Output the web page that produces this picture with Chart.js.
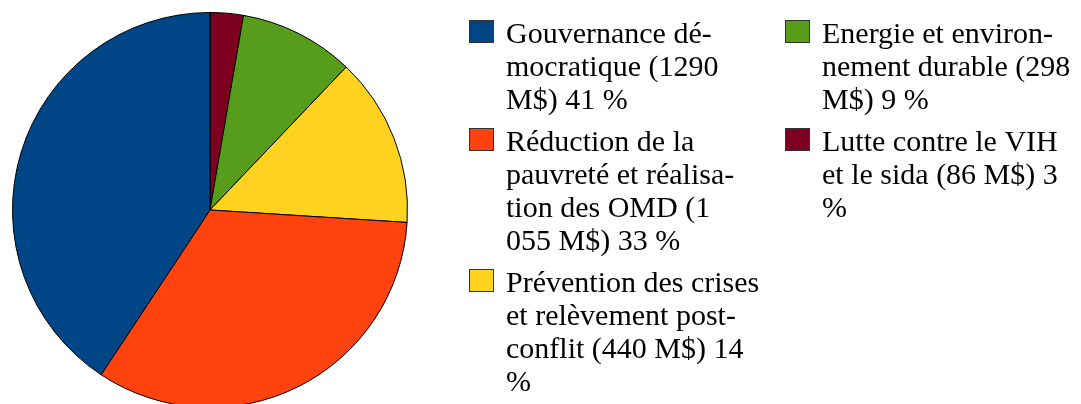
<!DOCTYPE html>
<html>
<head>
<meta charset="utf-8">
<script src="https://cdn.jsdelivr.net/npm/chart.js@4"></script>
<style>
  html, body { margin: 0; padding: 0; background: #fff; }
  body { width: 1081px; height: 404px; overflow: hidden; position: relative; }
  #pie { position: absolute; left: 0; top: 0; }
</style>
</head>
<body>
<canvas id="pie" width="1081" height="420"></canvas>
<script>
// legend order, lines as wrapped in the original
const labelLines = [
  ['Gouvernance dé-', 'mocratique (1290', 'M$) 41 %'],
  ['Réduction de la', 'pauvreté et réalisa-', 'tion des OMD (1', '055 M$) 33 %'],
  ['Prévention des crises', 'et relèvement post-', 'conflit (440 M$) 14', '%'],
  ['Energie et environ-', 'nement durable (298', 'M$) 9 %'],
  ['Lutte contre le VIH', 'et le sida (86 M$) 3', '%'],
];
const values = [1290, 1055, 440, 298, 86];
const colors = ['#004586', '#ff420e', '#ffd320', '#579d1c', '#7e0021'];

// the original runs counter-clockwise from 12 o'clock, so feed it reversed
const order = values.map((v, i) => i).reverse();

// two column legend drawn next to the pie, first three items left
const sideLegend = {
  id: 'sideLegend',
  afterDraw(chart) {
    const ctx = chart.ctx;
    const cols = [469, 785];
    const tops = [20, 20];
    ctx.save();
    ctx.font = "30px 'Liberation Serif', 'Times New Roman', serif";
    ctx.textBaseline = 'alphabetic';
    ctx.textAlign = 'left';
    labelLines.forEach((lines, i) => {
      const c = i < 3 ? 0 : 1;
      const x = cols[c], y = tops[c];
      ctx.fillStyle = colors[i];
      ctx.fillRect(x, y, 25, 23);
      ctx.strokeStyle = '#333';
      ctx.lineWidth = 1;
      ctx.strokeRect(x + 0.5, y + 0.5, 24, 22);
      ctx.fillStyle = '#000';
      lines.forEach((t, j) => ctx.fillText(t, x + 37, y + 23 + j * 33));
      tops[c] += lines.length * 33 + 9;
    });
    ctx.restore();
  }
};

new Chart(document.getElementById('pie').getContext('2d'), {
  type: 'pie',
  data: {
    labels: order.map(i => labelLines[i].join(' ')),
    datasets: [{
      data: order.map(i => values[i]),
      backgroundColor: order.map(i => colors[i]),
      borderColor: '#000',
      borderWidth: 1,
    }]
  },
  options: {
    responsive: false,
    animation: false,
    layout: { padding: { left: 12, top: 12, bottom: 12, right: 673 } },
    plugins: {
      legend: { display: false },
      tooltip: { enabled: false },
    }
  },
  plugins: [sideLegend]
});
</script>
</body>
</html>
